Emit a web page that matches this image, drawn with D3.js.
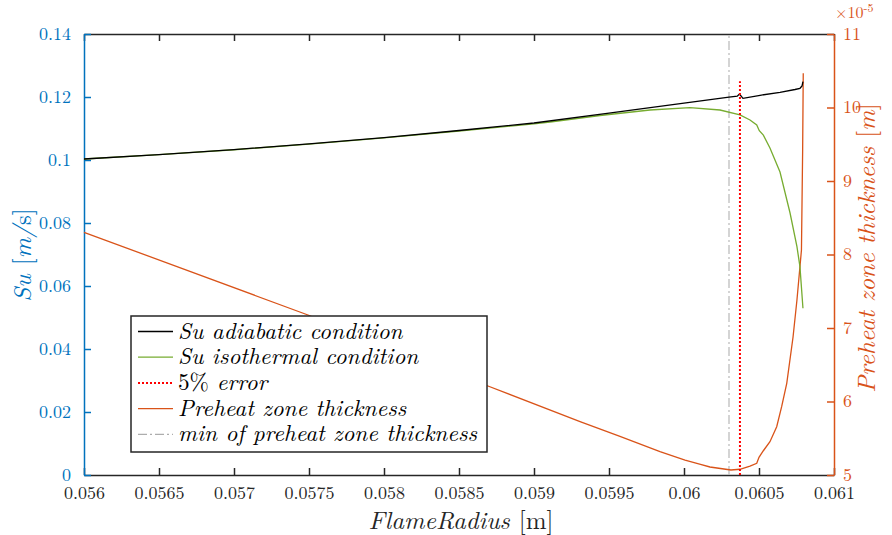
<!DOCTYPE html>
<html><head><meta charset="utf-8">
<script src="https://cdn.jsdelivr.net/npm/d3@7"></script>
<style>
html,body{margin:0;padding:0;background:#fff;}
svg{display:block;}
</style></head>
<body><svg id="c" width="892" height="535"></svg>
<script>
// ---- data ----
const xTicks = [0.056,0.0565,0.057,0.0575,0.058,0.0585,0.059,0.0595,0.06,0.0605,0.061];
const xTickLabels = ["0.056","0.0565","0.057","0.0575","0.058","0.0585","0.059","0.0595","0.06","0.0605","0.061"];
const yLTicks = [0,0.02,0.04,0.06,0.08,0.1,0.12,0.14];
const yLTickLabels = ["0","0.02","0.04","0.06","0.08","0.1","0.12","0.14"];
const yRTicks = [5e-5,6e-5,7e-5,8e-5,9e-5,10e-5,11e-5];
const yRTickLabels = ["5","6","7","8","9","10","11"];

// Su adiabatic
const adiaX = [0.056,0.0565,0.057,0.0575,0.058,0.0585,0.059,0.0595,0.06,0.0603,0.060355,0.06037,0.060393,0.060507,0.06064,0.06074,0.060773,0.060787,0.060793];
const adiaY = [0.10032,0.10170,0.10329,0.10511,0.10713,0.10937,0.11175,0.11486,0.11803,0.11994,0.12025,0.12095,0.11959,0.12054,0.12149,0.12238,0.12276,0.12349,0.12486];
// Su isothermal
const isoX = [0.056,0.0565,0.057,0.0575,0.058,0.0585,0.059,0.059107,0.05944,0.059773,0.06004,0.06024,0.060373,0.06044,0.060485,0.060502,0.060529,0.060573,0.06064,0.060707,0.060753,0.060773,0.060793];
const isoY = [0.10032,0.10168,0.10325,0.10505,0.10702,0.10920,0.11144,0.11207,0.11413,0.11587,0.11660,0.11587,0.11429,0.11270,0.11111,0.10930,0.10790,0.10381,0.09619,0.08317,0.07248,0.06613,0.05292];
// Preheat zone thickness [m]
const phX = [0.056,0.057493,0.058107,0.058693,0.059307,0.059573,0.05984,0.060007,0.06011,0.060173,0.060313,0.060373,0.06044,0.060485,0.0605,0.060529,0.060573,0.060618,0.060651,0.060685,0.060727,0.060753,0.060783,0.060791,0.060795];
const phY = [8.302e-5,7.177e-5,6.683e-5,6.211e-5,5.727e-5,5.525e-5,5.317e-5,5.204e-5,5.146e-5,5.109e-5,5.068e-5,5.078e-5,5.122e-5,5.159e-5,5.240e-5,5.330e-5,5.453e-5,5.657e-5,5.929e-5,6.247e-5,6.878e-5,7.381e-5,8.061e-5,9.422e-5,10.465e-5];
// 5% error marker and min of preheat thickness marker
const errX = [0.060373,0.060373];
const errY = [0,0.125];
const minX = [0.0603,0.0603];
const minY = [0,0.14];

const legendLabels = ["Su adiabatic condition","Su isothermal condition","5% error","Preheat zone thickness","min of preheat zone thickness"];

// ---- layout ----
const FONT = '"Latin Modern Roman","Liberation Serif",serif';
const svg = d3.select("#c");
const L=84, R=834, T=34, B=475;
const x = d3.scaleLinear().domain([0.056,0.061]).range([L,R]);
const yL = d3.scaleLinear().domain([0,0.14]).range([B,T]);
const yR = d3.scaleLinear().domain([5e-5,11e-5]).range([B,T]);
const AX="#262626", BLUE="#0072BD", ORANGE="#D95319", GREEN="#77AC30";

function styleText(sel,color,size){ sel.style("font-family",FONT).style("font-size",size).attr("fill",color); }

// axes
const gx = svg.append("g").attr("transform",`translate(0,${B})`)
  .call(d3.axisBottom(x).tickValues(xTicks).tickFormat((d,i)=>xTickLabels[i]).tickSizeInner(-7).tickSizeOuter(0).tickPadding(11));
const gxt = svg.append("g").attr("transform",`translate(0,${T})`)
  .call(d3.axisTop(x).tickValues(xTicks).tickFormat("").tickSizeInner(-7).tickSizeOuter(0));
[gx,gxt].forEach(g=>{g.selectAll("path,line").attr("stroke",AX).attr("stroke-width",1.5);
  styleText(g.selectAll("text"),"#262626","18px");});

const gl = svg.append("g").attr("transform",`translate(${L},0)`)
  .call(d3.axisLeft(yL).tickValues(yLTicks).tickFormat((d,i)=>yLTickLabels[i]).tickSizeInner(-7).tickSizeOuter(0).tickPadding(13));
gl.selectAll("path,line").attr("stroke",BLUE).attr("stroke-width",1.5);
styleText(gl.selectAll("text"),BLUE,"18px");
gl.selectAll("text").attr("dy","0.3em");

const gr = svg.append("g").attr("transform",`translate(${R},0)`)
  .call(d3.axisRight(yR).tickValues(yRTicks).tickFormat((d,i)=>yRTickLabels[i]).tickSizeInner(-7).tickSizeOuter(0).tickPadding(9));
gr.selectAll("path,line").attr("stroke",ORANGE).attr("stroke-width",1.5);
styleText(gr.selectAll("text"),ORANGE,"18px");
gr.selectAll("text").attr("dy","0.3em");

// exponent label
const ex = svg.append("text").attr("x",835).attr("y",18);
styleText(ex,ORANGE,"16px");
ex.append("tspan").text("×10");
ex.append("tspan").attr("dy",-6).style("font-size","12px").text("-5");

// marker lines
const lineL = d3.line().x(d=>x(d[0])).y(d=>yL(d[1]));
const lineR = d3.line().x(d=>x(d[0])).y(d=>yR(d[1]));
const zip=(a,b)=>a.map((v,i)=>[v,b[i]]);

svg.append("path").attr("d",lineL(zip(minX,minY))).attr("fill","none")
  .attr("stroke","#bdbdbd").attr("stroke-width",1.3).attr("stroke-dasharray","9,3,2,3");
svg.append("path").attr("d",lineR(zip(phX,phY))).attr("fill","none")
  .attr("stroke",ORANGE).attr("stroke-width",1.3);
svg.append("path").attr("d",lineL(zip(isoX,isoY))).attr("fill","none")
  .attr("stroke",GREEN).attr("stroke-width",1.3);
svg.append("path").attr("d",lineL(zip(adiaX,adiaY))).attr("fill","none")
  .attr("stroke","#000").attr("stroke-width",1.3);
svg.append("path").attr("d",lineL(zip(errX,errY))).attr("fill","none")
  .attr("stroke","#FF0000").attr("stroke-width",2).attr("stroke-dasharray","2,2");

// axis titles
const xt = svg.append("text").attr("x",461).attr("y",529).attr("text-anchor","middle");
styleText(xt,"#262626","25px");
xt.append("tspan").style("font-style","italic").text("FlameRadius ");
xt.append("tspan").text("[m]");

const yt = svg.append("text").attr("transform","translate(31,255) rotate(-90)").attr("text-anchor","middle");
styleText(yt,BLUE,"25px");
yt.append("tspan").style("font-style","italic").text("Su ");
yt.append("tspan").text("[");
yt.append("tspan").style("font-style","italic").text("m/");
yt.append("tspan").text("s]");

const rt = svg.append("text").attr("transform","translate(875,248) rotate(-90)").attr("text-anchor","middle");
styleText(rt,ORANGE,"25px");
rt.append("tspan").style("font-style","italic").text("Preheat zone thickness ");
rt.append("tspan").text("[");
rt.append("tspan").style("font-style","italic").text("m");
rt.append("tspan").text("]");

// legend
const lg = svg.append("g");
lg.append("rect").attr("x",131).attr("y",316).attr("width",356).attr("height",136)
  .attr("fill","#fff").attr("stroke","#262626").attr("stroke-width",1.5);
const lstyles = [
  {c:"#000",d:null,w:1.3},{c:GREEN,d:null,w:1.3},{c:"#FF0000",d:"2,2",w:2},
  {c:ORANGE,d:null,w:1.3},{c:"#999",d:"9,3,2,3",w:1}];
legendLabels.forEach((t,i)=>{
  const yy = 331.5 + i*25.7;
  lg.append("line").attr("x1",138).attr("x2",173).attr("y1",yy).attr("y2",yy)
    .attr("stroke",lstyles[i].c).attr("stroke-width",lstyles[i].w).attr("stroke-dasharray",lstyles[i].d);
  const tx = lg.append("text").attr("x",178).attr("y",yy+7);
  styleText(tx,"#000","23.2px");
  if(i===2){ tx.append("tspan").text("5% "); tx.append("tspan").style("font-style","italic").text("error"); }
  else tx.append("tspan").style("font-style","italic").text(t);
});
</script></body></html>
